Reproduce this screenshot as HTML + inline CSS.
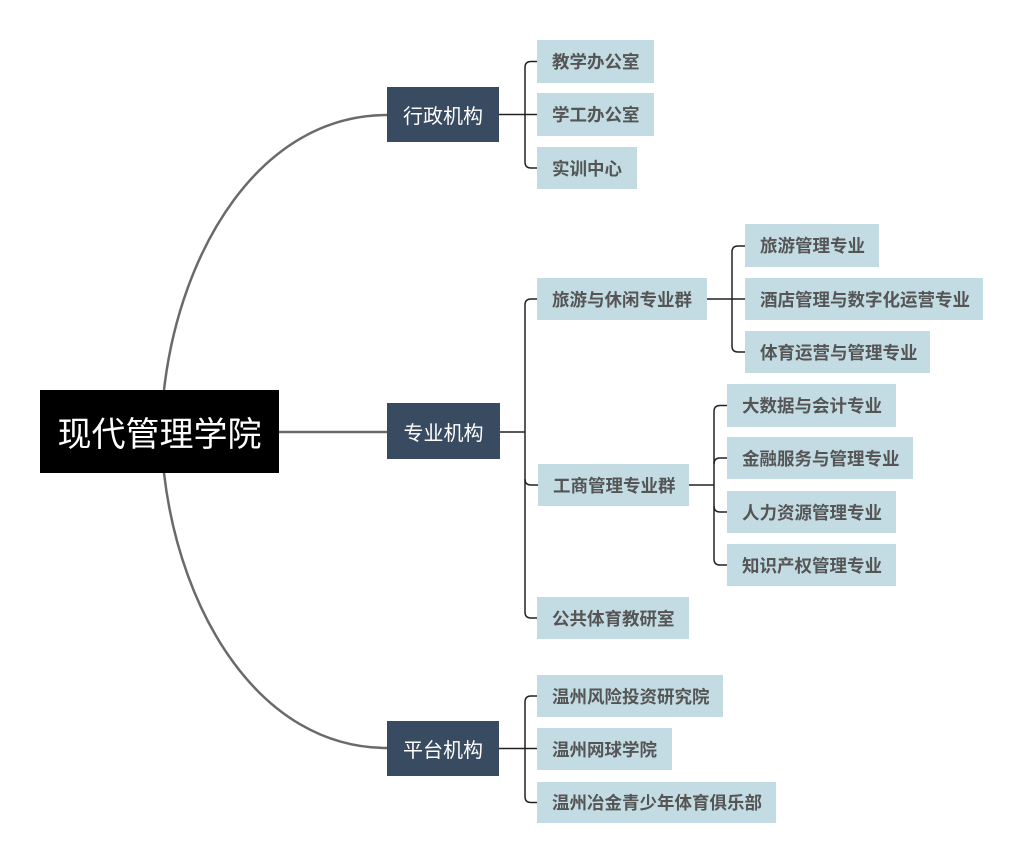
<!DOCTYPE html>
<html>
<head>
<meta charset="utf-8">
<style>
html,body{margin:0;padding:0;background:#fff;}
body{width:1024px;height:864px;position:relative;overflow:hidden;font-family:"Liberation Sans","Noto Sans CJK SC",sans-serif;}
.b{position:absolute;box-sizing:border-box;display:flex;align-items:center;white-space:nowrap;}
.root{background:#000;color:#fff;font-size:34px;justify-content:center;}
.main{background:#394b61;color:#fff;font-size:20px;justify-content:center;}
.leaf{background:#c3dce4;color:#555;font-size:17.5px;font-weight:bold;padding-left:15px;}
svg{position:absolute;left:0;top:0;}
</style>
</head>
<body>
<svg width="1024" height="864" viewBox="0 0 1024 864">
  <g fill="none" stroke="#6a6a6a" stroke-width="2.5">
    <path d="M164,390 C180,250 260,115 387,115"/>
    <path d="M164,473 C180,613 260,748 387,748"/>
    <path d="M279,432 H387"/>
  </g>
  <g fill="none" stroke="#222" stroke-width="1.5">
    <!-- 行政 -->
    <path d="M499,114.5 H537"/>
    <path d="M537,61.5 H531 Q525,61.5 525,67.5 V162 Q525,168 531,168 H537"/>
    <!-- 专业 -->
    <path d="M500,432 H525"/>
    <path d="M537,299 H531 Q525,299 525,305 V612 Q525,618 531,618 H537"/>
    <path d="M525,479 Q525,485 531,485 H538"/>
    <!-- 旅游 -->
    <path d="M707,299 H745"/>
    <path d="M745,246 H738 Q732,246 732,252 V346 Q732,352 738,352 H745"/>
    <!-- 工商 -->
    <path d="M689,485 H714"/>
    <path d="M727,405.5 H720 Q714,405.5 714,411.5 V559 Q714,565 720,565 H727"/>
    <path d="M714,464 Q714,458 720,458 H727"/>
    <path d="M714,506 Q714,512 720,512 H727"/>
    <!-- 平台 -->
    <path d="M499,748.5 H537"/>
    <path d="M537,696 H531 Q525,696 525,702 V796.5 Q525,802.5 531,802.5 H537"/>
  </g>
</svg>

<div class="b root" style="left:40px;top:390px;width:239px;height:83px;">现代管理学院</div>

<div class="b main" style="left:387px;top:87px;width:112px;height:55px;">行政机构</div>
<div class="b main" style="left:387px;top:403px;width:113px;height:56px;">专业机构</div>
<div class="b main" style="left:387px;top:721px;width:112px;height:55px;">平台机构</div>

<div class="b leaf" style="left:537px;top:40px;width:117px;height:43px;">教学办公室</div>
<div class="b leaf" style="left:537px;top:93px;width:117px;height:43px;">学工办公室</div>
<div class="b leaf" style="left:537px;top:147px;width:100px;height:42px;">实训中心</div>

<div class="b leaf" style="left:537px;top:278px;width:170px;height:42px;">旅游与休闲专业群</div>
<div class="b leaf" style="left:745px;top:224px;width:134px;height:43px;">旅游管理专业</div>
<div class="b leaf" style="left:745px;top:278px;width:238px;height:42px;">酒店管理与数字化运营专业</div>
<div class="b leaf" style="left:745px;top:331px;width:185px;height:42px;">体育运营与管理专业</div>

<div class="b leaf" style="left:538px;top:464px;width:151px;height:42px;">工商管理专业群</div>
<div class="b leaf" style="left:727px;top:384px;width:169px;height:43px;">大数据与会计专业</div>
<div class="b leaf" style="left:727px;top:437px;width:186px;height:42px;">金融服务与管理专业</div>
<div class="b leaf" style="left:727px;top:491px;width:169px;height:42px;">人力资源管理专业</div>
<div class="b leaf" style="left:727px;top:544px;width:169px;height:42px;">知识产权管理专业</div>

<div class="b leaf" style="left:537px;top:597px;width:152px;height:42px;">公共体育教研室</div>

<div class="b leaf" style="left:537px;top:675px;width:186px;height:42px;">温州风险投资研究院</div>
<div class="b leaf" style="left:537px;top:728px;width:135px;height:42px;">温州网球学院</div>
<div class="b leaf" style="left:537px;top:782px;width:239px;height:41px;">温州冶金青少年体育俱乐部</div>
</body>
</html>
